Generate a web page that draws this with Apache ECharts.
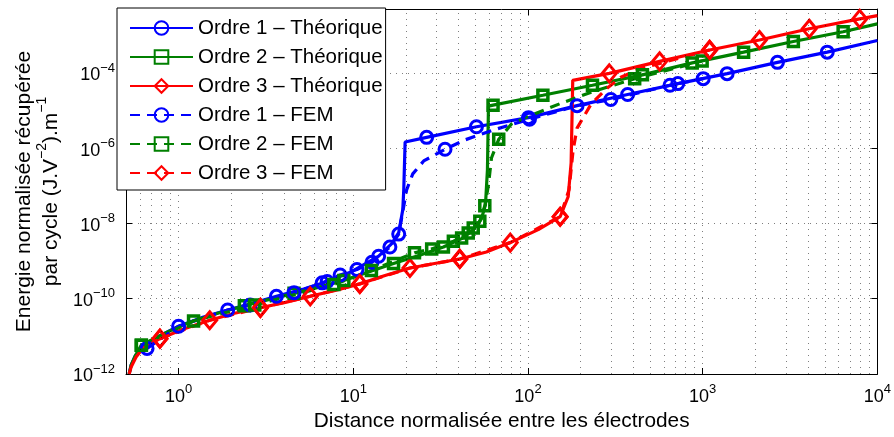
<!DOCTYPE html>
<html><head><meta charset="utf-8">
<script src="https://cdn.jsdelivr.net/npm/echarts@6/dist/echarts.min.js"></script>
<style>html,body{margin:0;padding:0;background:#fff}#c{width:894px;height:437px}</style>
</head><body><div id="c"></div>
<script>
// ---------- data ----------
const o1TheoX = [0.521,0.535,0.564,0.610,0.676,0.793,1.0,1.375,1.91,2.65,3.63,5.11,7.09,9.84,13.97,16.6,18.2,19.2,19.45,19.8,26.3,50.7,100.7,191,372,721,1380,2680,5164,10000];
const o1TheoY = [1.0e-12,1.73e-12,2.99e-12,4.88e-12,7.03e-12,1.08e-11,1.86e-11,3.22e-11,5.02e-11,7.55e-11,1.16e-10,1.77e-10,2.88e-10,5.31e-10,1.35e-9,2.92e-9,5.71e-9,2.32e-8,7.83e-8,1.46e-6,1.94e-6,3.71e-6,6.49e-6,1.35e-5,2.67e-5,5.21e-5,9.58e-5,1.91e-4,3.57e-4,7.28e-4];
const o1TheoMarkX = [1.0,1.91,3.63,7.09,13.97,26.3,50.7,100.7,191,372,721,1380,2680,5164];
const o1TheoMarkY = [1.86e-11,5.02e-11,1.16e-10,2.88e-10,1.35e-9,1.94e-6,3.71e-6,6.49e-6,1.35e-5,2.67e-5,5.21e-5,9.58e-5,1.91e-4,3.57e-4];

const o2TheoX = [0.521,0.535,0.564,0.612,0.793,1.0,1.218,1.675,2.38,3.23,4.58,6.64,8.83,12.7,17.0,24.7,32.8,41.7,48.8,54.2,57.1,58.6,59.4,63.1,121.7,234,452,871,1715,3304,6368,10000];
const o2TheoY = [1.0e-12,1.73e-12,2.99e-12,5.85e-12,1.08e-11,1.81e-11,2.57e-11,4.11e-11,6.49e-11,9.35e-11,1.39e-10,2.13e-10,3.07e-10,5.47e-10,8.64e-10,1.50e-9,2.36e-9,3.96e-9,6.86e-9,1.34e-8,3.14e-8,2.65e-7,1.31e-5,1.39e-5,2.55e-5,4.70e-5,8.91e-5,1.85e-4,3.57e-4,6.85e-4,1.24e-3,2.01e-3];
const o2TheoMarkX = [0.612,1.218,2.38,4.58,8.83,17.0,32.8,63.1,121.7,234,452,871,1715,3304,6368];
const o2TheoMarkY = [5.85e-12,2.57e-11,6.49e-11,1.39e-10,3.07e-10,8.64e-10,2.36e-9,1.39e-5,2.55e-5,4.70e-5,8.91e-5,1.85e-4,3.57e-4,6.85e-4,1.24e-3];

const o3TheoX = [0.521,0.535,0.571,0.626,0.782,1.058,1.507,2.09,2.94,4.09,5.67,7.88,10.9,15.2,21.1,29.2,40.7,57.8,79.2,114.5,152.8,169.8,176.6,180.4,292,567,1096,2113,4074,7925,10000];
const o3TheoY = [1.0e-12,1.53e-12,2.82e-12,4.88e-12,8.69e-12,1.55e-11,2.68e-11,4.11e-11,5.74e-11,8.03e-11,1.16e-10,1.67e-10,2.48e-10,4.16e-10,6.56e-10,8.64e-10,1.14e-9,1.74e-9,3.10e-9,6.86e-9,1.51e-8,5.12e-8,4.06e-7,6.37e-5,9.75e-5,2.03e-4,4.08e-4,7.51e-4,1.49e-3,2.73e-3,3.34e-3];
const o3TheoMarkX = [0.782,1.507,2.94,5.67,10.9,21.1,40.7,79.2,152.8,292,567,1096,2113,4074,7925];
const o3TheoMarkY = [8.69e-12,2.68e-11,5.74e-11,1.16e-10,2.48e-10,6.56e-10,1.14e-9,3.10e-9,1.51e-8,9.75e-5,2.03e-4,4.08e-4,7.51e-4,1.49e-3,2.73e-3];

const o1FemX = [0.660,1.0,1.91,2.57,4.58,6.64,8.41,10.5,12.8,16.2,18.2,19.2,20.2,21.9,25.3,33.5,43.4,61.8,102,188,298,650,1007];
const o1FemY = [4.79e-12,1.86e-11,5.02e-11,6.81e-11,1.45e-10,2.64e-10,4.29e-10,6.0e-10,9.35e-10,2.36e-9,5.21e-9,2.05e-8,7.83e-8,2.08e-7,4.58e-7,9.35e-7,1.65e-6,2.94e-6,5.91e-6,1.31e-5,1.97e-5,4.70e-5,7.06e-5];
const o1FemMarkX = [0.660,2.57,4.58,6.64,8.41,10.5,12.8,16.2,18.2,33.5,102,298,650,1007];
const o1FemMarkY = [4.79e-12,6.81e-11,1.45e-10,2.64e-10,4.29e-10,6.0e-10,9.35e-10,2.36e-9,5.21e-9,9.35e-7,5.91e-6,1.97e-5,4.70e-5,7.06e-5];

const o2FemX = [0.612,1.218,2.73,7.74,12.7,22.4,28.1,37.4,41.7,45.5,48.6,53.0,56.6,59.4,61.8,68.0,80.4,97.8,155,230,408,993];
const o2FemY = [5.85e-12,2.57e-11,6.81e-11,2.40e-10,5.64e-10,1.66e-9,2.11e-9,3.36e-9,4.13e-9,5.61e-9,7.60e-9,1.14e-8,2.96e-8,1.06e-7,5.5e-7,1.72e-6,4.37e-6,6.68e-6,1.57e-5,3.07e-5,7.06e-5,2.07e-4];
const o2FemMarkX = [0.612,2.73,7.74,12.7,22.4,28.1,37.4,41.7,45.5,48.6,53.0,56.6,68.0,408,993];
const o2FemMarkY = [5.85e-12,6.81e-11,2.40e-10,5.64e-10,1.66e-9,2.11e-9,3.36e-9,4.13e-9,5.61e-9,7.60e-9,1.14e-8,2.96e-8,1.72e-6,7.06e-5,2.07e-4];

const o3FemX = [0.782,1.507,2.94,5.67,10.9,21.1,40.7,79.2,152.8,171.8,181.3,191,229.6,283,340,443,1096];
const o3FemY = [8.69e-12,2.68e-11,5.74e-11,1.16e-10,2.48e-10,6.56e-10,1.14e-9,3.10e-9,1.51e-8,7.83e-8,8.95e-7,3.42e-6,1.48e-5,3.92e-5,7.66e-5,1.32e-4,4.08e-4];
const o3FemMarkX = [0.782,2.94,10.9,40.7,152.8,1096];
const o3FemMarkY = [8.69e-12,5.74e-11,2.48e-10,1.14e-9,1.51e-8,4.08e-4];

const xTickLabels = ['10^0','10^1','10^2','10^3','10^4'];
const yTickLabels = ['10^-12','10^-10','10^-8','10^-6','10^-4'];
const seriesNames = ['Ordre 1 \u2013 Th\u00e9orique','Ordre 2 \u2013 Th\u00e9orique','Ordre 3 \u2013 Th\u00e9orique','Ordre 1 \u2013 FEM','Ordre 2 \u2013 FEM','Ordre 3 \u2013 FEM'];

// ---------- helpers ----------
const FONT = 'Liberation Sans, Arial, Helvetica, sans-serif';
const pairs = (xs, ys) => xs.map((x, i) => [x, ys[i]]);
function expLabel(v, allowed) {
  const e = Math.round(Math.log10(v));
  if (Math.abs(Math.log10(v) - e) > 1e-6) return '';
  const key = '10^' + e;
  if (allowed.indexOf(key) < 0) return '';
  return '{b|10}{s|' + String(e).replace('-', '\u2212') + '}';
}
const richLab = {
  b: {fontSize: 18, fontFamily: FONT, color: '#000', lineHeight: 23, verticalAlign: 'bottom'},
  s: {fontSize: 13, fontFamily: FONT, color: '#000', lineHeight: 13, verticalAlign: 'top'}
};
const gridDot = {color: '#000', type: [1, 5], width: 1, opacity: 0.5};

// grid decoration: minor vertical lines at 2..9 x 10^k, horizontal lines every quarter decade
const gridMarks = [];
[0.1, 1, 10, 100, 1000].forEach(d => { for (let m = 2; m <= 9; m++) { const v = +(m * d).toPrecision(3); if (v > 0.5 && v < 10000) gridMarks.push({xAxis: v}); } });
for (let q = 1; q < 39; q++) { if (q % 8 !== 0) gridMarks.push({yAxis: Math.pow(10, -12 + q / 4)}); }

const colors = ['#0000ff', '#008000', '#ff0000'];
const syms = ['circle', 'rect', 'diamond'];
const symSize = [12, 10, [14, 17]];
const symBorder = [3, 3.5, 3];

const curves = [
  [o1TheoX, o1TheoY, o1TheoMarkX, o1TheoMarkY],
  [o2TheoX, o2TheoY, o2TheoMarkX, o2TheoMarkY],
  [o3TheoX, o3TheoY, o3TheoMarkX, o3TheoMarkY],
  [o1FemX, o1FemY, o1FemMarkX, o1FemMarkY],
  [o2FemX, o2FemY, o2FemMarkX, o2FemMarkY],
  [o3FemX, o3FemY, o3FemMarkX, o3FemMarkY]
];

const series = [{
  type: 'line', name: 'grid', data: [], silent: true, z: 1,
  markLine: {silent: true, symbol: 'none', label: {show: false}, lineStyle: gridDot, animation: false, data: gridMarks}
}];
curves.forEach((c, k) => {
  const o = k % 3, fem = k >= 3;
  const col = colors[o];
  series.push({
    type: 'line', name: seriesNames[k], data: pairs(c[0], c[1]),
    showSymbol: false, symbol: syms[o], symbolSize: symSize[o], z: 2,
    color: col,
    lineStyle: {color: col, width: 3.2, type: fem ? [10, 7] : 'solid'},
    itemStyle: {color: 'rgba(255,255,255,0)', borderColor: col, borderWidth: symBorder[o]},
    animation: false, silent: true
  });
  series.push({
    type: 'scatter', name: 'm' + k, data: pairs(c[2], c[3]),
    symbol: syms[o], symbolSize: symSize[o], z: 2,
    itemStyle: {color: 'rgba(255,255,255,0)', borderColor: col, borderWidth: symBorder[o], opacity: 1},
    animation: false, silent: true
  });
});

const chart = echarts.init(document.getElementById('c'), null, {renderer: 'canvas'});
chart.setOption({
  animation: false,
  backgroundColor: '#fff',
  textStyle: {fontFamily: FONT},
  grid: {left: 124, right: 16, top: 9, bottom: 62, containLabel: false},
  legend: {
    data: seriesNames, orient: 'vertical', left: 117, top: 8,
    padding: [9, 3, 6, 12], itemWidth: 63, itemHeight: 17, itemGap: 7,
    backgroundColor: '#fff', borderColor: '#000', borderWidth: 1, borderRadius: 0,
    textStyle: {fontSize: 20.5, fontFamily: FONT, color: '#000', lineHeight: 22},
    selectedMode: false, z: 10
  },
  xAxis: [{
    type: 'log', logBase: 10, min: 0.5, max: 10000, position: 'bottom',
    axisLine: {show: true, lineStyle: {color: '#000', width: 1}},
    axisTick: {show: true, inside: true, length: 6, lineStyle: {color: '#000'}},
    axisLabel: {margin: 9, formatter: v => expLabel(v, xTickLabels), rich: richLab},
    splitLine: {show: true, lineStyle: gridDot},
    name: 'Distance normalis\u00e9e entre les \u00e9lectrodes', nameLocation: 'middle', nameGap: 37,
    nameTextStyle: {fontSize: 20.8, fontFamily: FONT, color: '#000'}
  }, {
    type: 'log', logBase: 10, min: 0.5, max: 10000, position: 'top',
    axisLine: {show: true, lineStyle: {color: '#000', width: 1}},
    axisTick: {show: true, inside: true, length: 6, lineStyle: {color: '#000'}},
    axisLabel: {show: false}, splitLine: {show: false}
  }],
  yAxis: [{
    type: 'log', logBase: 10, min: 1e-12, max: 5e-3, interval: 2, position: 'left',
    axisLine: {show: true, lineStyle: {color: '#000', width: 1}},
    axisTick: {show: true, inside: true, length: 6, lineStyle: {color: '#000'}},
    axisLabel: {margin: 11, formatter: v => expLabel(v, yTickLabels), rich: richLab},
    splitLine: {show: true, lineStyle: gridDot},
    name: '{a|Energie normalis\u00e9e r\u00e9cup\u00e9r\u00e9e}\n{a|par cycle (J.V}{s|\u22122}{a|).m}{s|\u22121}',
    nameLocation: 'middle', nameRotate: 90, nameGap: 64,
    nameTextStyle: {fontSize: 21, fontFamily: FONT, color: '#000', lineHeight: 27,
      rich: {a: {fontSize: 21, fontFamily: FONT, color: '#000', lineHeight: 27, verticalAlign: 'bottom'},
             s: {fontSize: 14, fontFamily: FONT, color: '#000', lineHeight: 27, verticalAlign: 'top'}}}
  }, {
    type: 'log', logBase: 10, min: 1e-12, max: 5e-3, interval: 2, position: 'right',
    axisLine: {show: true, lineStyle: {color: '#000', width: 1}},
    axisTick: {show: true, inside: true, length: 6, lineStyle: {color: '#000'}},
    axisLabel: {show: false}, splitLine: {show: false}
  }],
  series: series
});
</script>
</body></html>
